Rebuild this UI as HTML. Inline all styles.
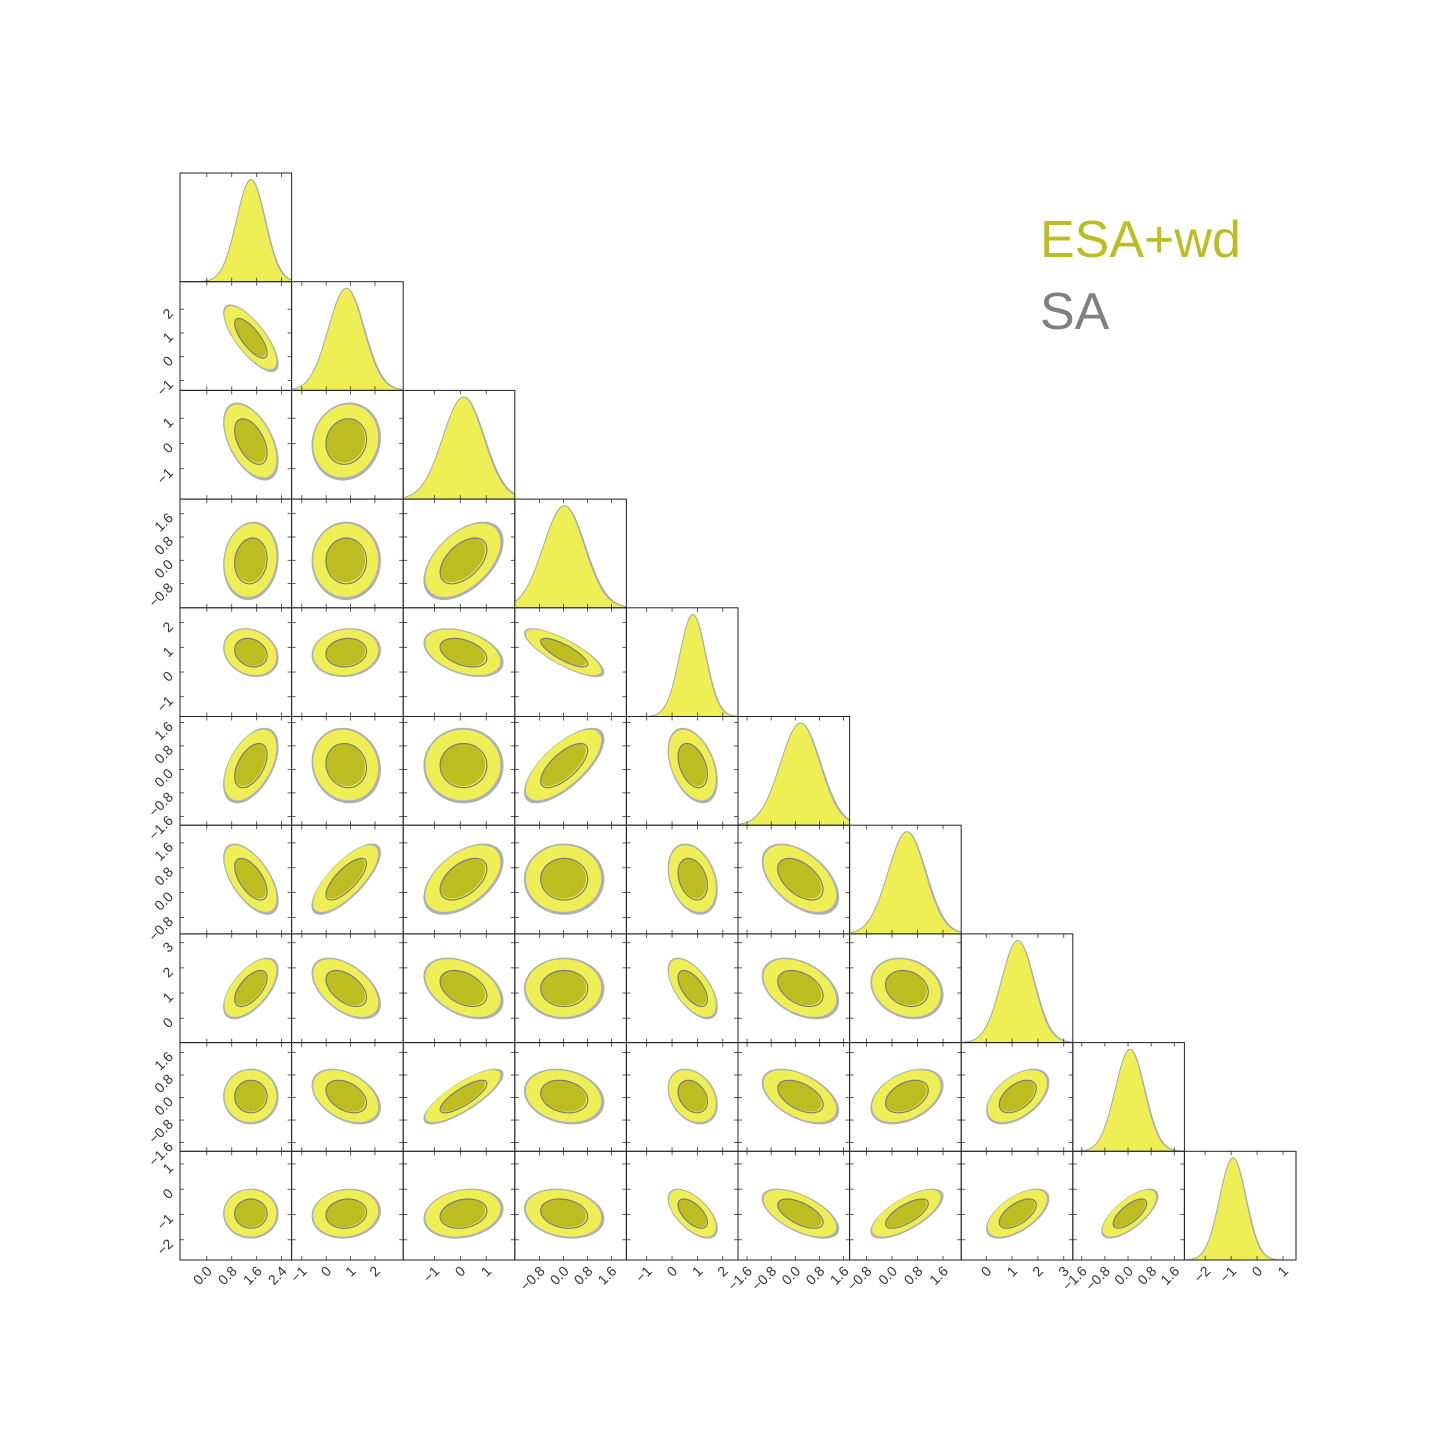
<!DOCTYPE html>
<html><head><meta charset="utf-8">
<style>
html,body{margin:0;padding:0;background:#fff;}
svg{display:block;font-family:"Liberation Sans","DejaVu Sans",sans-serif;}
</style></head>
<body>
<svg id="chart" width="1440" height="1440" viewBox="0 0 1440 1440" xmlns="http://www.w3.org/2000/svg">
<rect width="1440" height="1440" fill="#fff"/>
<g id="panels"></g>
<text x="1040" y="257" font-size="52" fill="#bcbd22">ESA+wd</text>
<text x="1040" y="329" font-size="52" fill="#808080">SA</text>
</svg>
<script>
const varMeans = [1.4, 0.8, 0.1, 0.0, 0.8, 0.15, 0.45, 1.2, 0.05, -0.95];
const varStds  = [0.45, 0.72, 0.78, 0.68, 0.5, 0.65, 0.58, 0.62, 0.5, 0.5];
const rangeMin = [-0.86, -1.42, -2.2, -1.63, -1.8, -1.9, -1.33, -0.97, -1.91, -2.8];
const rangeMax = [2.72, 3.16, 2.1, 2.1, 2.6, 1.8, 2.17, 3.35, 1.95, 1.5];
const tickVals = [
  [0.0,0.8,1.6,2.4],[-1,0,1,2],[-1,0,1],[-0.8,0,0.8,1.6],[-1,0,1,2],
  [-1.6,-0.8,0,0.8,1.6],[-0.8,0,0.8,1.6],[0,1,2,3],[-1.6,-0.8,0,0.8,1.6],[-2,-1,0,1]
];
const tickLabels = [
  ["0.0","0.8","1.6","2.4"],["−1","0","1","2"],["−1","0","1"],["−0.8","0.0","0.8","1.6"],["−1","0","1","2"],
  ["−1.6","−0.8","0.0","0.8","1.6"],["−0.8","0.0","0.8","1.6"],["0","1","2","3"],["−1.6","−0.8","0.0","0.8","1.6"],["−2","−1","0","1"]
];
const corrRows = [
  [],
  [-0.75],
  [-0.5, 0.1],
  [0.1, 0.0, 0.5],
  [-0.2, 0.1, -0.4, -0.8],
  [0.5, -0.1, 0.0, 0.7, -0.4],
  [-0.6, 0.75, 0.5, 0.0, -0.3, -0.5],
  [0.6, -0.5, -0.4, 0.0, -0.6, -0.4, -0.2],
  [0.0, -0.4, 0.8, -0.2, -0.3, -0.5, 0.4, 0.5],
  [0.0, 0.1, 0.2, -0.2, -0.6, -0.6, 0.7, 0.6, 0.7]
];

const N = 10, X0 = 180, Y0 = 173, PW = 111.6, PH = 108.7;
const KOUT = 1.85, KIN = 1.1;
const NS = "http://www.w3.org/2000/svg";
const root = document.getElementById('panels');
function mk(tag, attrs, parent){
  const e = document.createElementNS(NS, tag);
  for (const k in attrs) e.setAttribute(k, attrs[k]);
  (parent||root).appendChild(e);
  return e;
}
function xScale(col){ const l = X0+col*PW; return v => l + (v-rangeMin[col])/(rangeMax[col]-rangeMin[col])*PW; }
function yScale(row){ const t = Y0+row*PH; return v => t + PH - (v-rangeMin[row])/(rangeMax[row]-rangeMin[row])*PH; }

function ellipsePath(sx, sy, mx, my, sdx, sdy, rho, k){
  let d = "";
  const q = Math.sqrt(1-rho*rho);
  for (let s=0; s<=72; s++){
    const t = s/72*2*Math.PI;
    const u = Math.cos(t), w = Math.sin(t);
    const px = sx(mx + k*sdx*u);
    const py = sy(my + k*sdy*(rho*u + q*w));
    d += (s===0?"M":"L") + px.toFixed(1) + "," + py.toFixed(1);
  }
  return d + "Z";
}

for (let i=0;i<N;i++){
  for (let j=0;j<=i;j++){
    const g = mk('g', {});
    
    
    const left = X0 + j*PW, top = Y0 + i*PH;
    const clipId = 'c'+i+'_'+j;
    const cp = mk('clipPath', {id: clipId}, g);
    mk('rect', {x:left, y:top, width:PW, height:PH}, cp);
    const inner = mk('g', {'clip-path':'url(#'+clipId+')'}, g);
    const sx = xScale(j);
    if (i===j){
      const sy0 = top + PH, peakH = PH*0.94;
      const m = varMeans[i], s = varStds[i];
      function curve(mm, ss){
        let d = "M" + left + "," + sy0;
        for (let p=0;p<=120;p++){
          const v = rangeMin[i] + (rangeMax[i]-rangeMin[i])*p/120;
          const y = sy0 - peakH*Math.exp(-0.5*((v-mm)/ss)**2);
          d += "L" + sx(v).toFixed(1) + "," + y.toFixed(1);
        }
        return d + "L" + (left+PW) + "," + sy0 + "Z";
      }
      const gp = mk('path', {d: curve(m+0.04*s, s*1.03), fill:'#b0b0b0'}, inner);
      
      
      const yp = mk('path', {d: curve(m, s), fill:'#eeee55'}, inner);
      
      
      mk('path', {d: curve(m+0.04*s, s*1.03), fill:'none', stroke:'#a8a8a8', 'stroke-width':1}, inner);
    } else {
      const sy = yScale(i);
      const rho = corrRows[i][j];
      const mx = varMeans[j], my = varMeans[i], sdx = varStds[j], sdy = varStds[i];
      const a = mk('path', {d: ellipsePath(sx, sy, mx+0.03*sdx, my-0.03*sdy, sdx*1.07, sdy*1.07, rho, KOUT), fill:'#b0b0b0'}, inner);
      
      
      const b = mk('path', {d: ellipsePath(sx, sy, mx, my, sdx, sdy, rho, KOUT), fill:'#eeee55'}, inner);
      
      
      const c = mk('path', {d: ellipsePath(sx, sy, mx, my, sdx, sdy, rho, KIN), fill:'#bdbd22'}, inner);
      
      
      const e = mk('path', {d: ellipsePath(sx, sy, mx+0.03*sdx, my-0.03*sdy, sdx*1.05, sdy*1.05, rho, KIN), fill:'none', stroke:'#7a7a7a', 'stroke-width':1.2}, inner);
      
      
    }
    tickVals[j].forEach(v=>{
      const x = sx(v);
      mk('line', {x1:x, y1:top+PH, x2:x, y2:top+PH-4, stroke:'#333', 'stroke-width':0.8}, g);
      mk('line', {x1:x, y1:top, x2:x, y2:top+4, stroke:'#333', 'stroke-width':0.8}, g);
    });
    if (i!==j){
      const sy = yScale(i);
      tickVals[i].forEach(v=>{
        const y = sy(v);
        mk('line', {x1:left, y1:y, x2:left+4, y2:y, stroke:'#333', 'stroke-width':0.8}, g);
        mk('line', {x1:left+PW, y1:y, x2:left+PW-4, y2:y, stroke:'#333', 'stroke-width':0.8}, g);
      });
    }
    const fr = mk('rect', {x:left, y:top, width:PW, height:PH, fill:'none', stroke:'#222', 'stroke-width':1}, g);
    
    
  }
}
for (let i=1;i<N;i++){
  const sy = yScale(i);
  tickVals[i].forEach((v,k)=>{
    const y = sy(v);
    const t = mk('text', {transform:'translate(174,'+(y+5).toFixed(1)+') rotate(-45)', 'text-anchor':'end', 'font-size':14, fill:'#333'});
    
    
    t.textContent = tickLabels[i][k];
  });
}
for (let j=0;j<N;j++){
  const sx = xScale(j);
  tickVals[j].forEach((v,k)=>{
    const x = sx(v);
    const t = mk('text', {transform:'translate('+(x+6).toFixed(1)+',1272) rotate(-45)', 'text-anchor':'end', 'font-size':14, fill:'#333'});
    
    
    t.textContent = tickLabels[j][k];
  });
}
</script>
</body></html>
